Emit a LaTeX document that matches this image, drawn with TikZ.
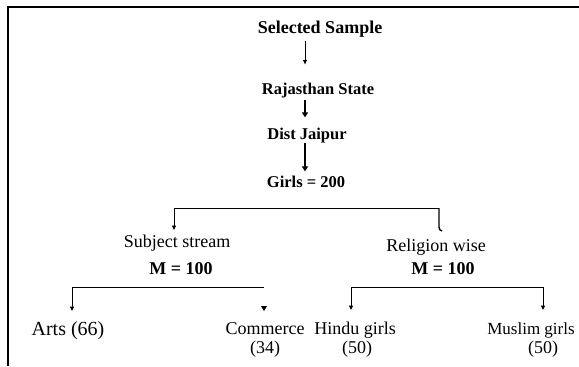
\documentclass[tikz,border=0pt]{standalone}
\usepackage{fontspec}
\setmainfont{Liberation Serif}
\usetikzlibrary{arrows.meta}
\tikzset{
  lbl/.style={inner sep=0pt, anchor=base, font=\fontsize{18bp}{20bp}\selectfont},
  blbl/.style={inner sep=0pt, anchor=base, font=\bfseries\fontsize{16.5bp}{19bp}\selectfont},
  thinarr/.style={line width=0.9bp, -{Triangle[length=4.5bp,width=4bp]}},
  thickarr/.style={line width=1.8bp, -{Triangle[length=5bp,width=6bp]}},
  branch/.style={line width=0.9bp},
  frame/.style={line width=2.2bp}
}
\begin{document}
\begin{tikzpicture}[x=1bp,y=-1bp]
\useasboundingbox (0,0) rectangle (579,366);
\draw[frame] (579,7) -- (8,7) -- (8,366);
% top chain
\node[blbl, font=\bfseries\fontsize{18bp}{21bp}\selectfont] (ss) at (320,33) {Selected Sample};
\node[blbl] (rs) at (318,94) {Rajasthan State};
\node[blbl] (dj) at (307,139) {Dist Jaipur};
\node[blbl] (gi) at (306,187) {Girls = 200};
\coordinate (ax) at (305,0);
\draw[thinarr, shorten <=4bp, shorten >=18bp] (ss.south -| ax) -- (rs.north -| ax);
\draw[thickarr, shorten <=2bp, shorten >=10bp] (rs.south -| ax) -- (dj.north -| ax);
\draw[thickarr, shorten >=4bp] (dj.south -| ax) -- (gi.north -| ax);
% second level
\node[lbl] (sub) at (177,247) {Subject stream};
\node[blbl, font=\bfseries\fontsize{18bp}{20bp}\selectfont] (m1) at (181,274) {M = 100};
\node[lbl] (rel) at (436,251) {Religion wise};
\node[blbl, font=\bfseries\fontsize{18bp}{20bp}\selectfont] (m2) at (443,274) {M = 100};
\coordinate (b1l) at (174,208);
\coordinate (b1r) at (439,208);
\draw[branch] (b1l) -- (b1r);
\draw[thinarr] (b1l) -- (b1l |- 0,230);
\draw[line width=1.4bp] (b1r) -- ++(0,19) to[out=-90,in=180] ++(3,4);
% third level left
\node[lbl, font=\fontsize{20bp}{22bp}\selectfont] (arts) at (68,335) {Arts (66)};
\node[lbl] (com) at (265,334) {Commerce};
\node[lbl] (com2) at (265,353) {(34)};
\coordinate (b2l) at (72,287);
\coordinate (b2r) at (264,287);
\draw[branch] (b2l) -- (b2r);
\draw[thinarr] (b2l) -- (b2l |- 0,311);
\fill (b2r |- 0,306) ++(-3,0) -- ++(6,0) -- ++(-3,5) -- cycle;
% third level right
\node[lbl] (hin) at (355,334) {Hindu girls};
\node[lbl] (hin2) at (357,353) {(50)};
\node[lbl, font=\fontsize{17bp}{19bp}\selectfont] (mus) at (531,334) {Muslim girls};
\node[lbl] (mus2) at (543,353) {(50)};
\coordinate (b3l) at (351,287);
\coordinate (b3r) at (543,287);
\draw[branch] (b3l) -- (b3r);
\draw[thinarr] (b3l) -- (b3l |- 0,310);
\draw[thinarr] (b3r) -- (b3r |- 0,310);
\end{tikzpicture}
\end{document}
